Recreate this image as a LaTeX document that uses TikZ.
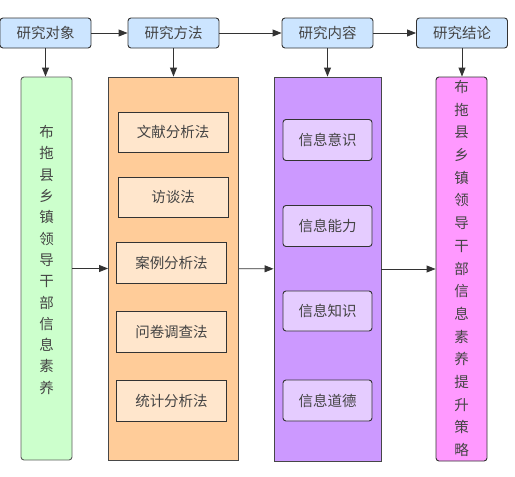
\documentclass[tikz,border=0pt]{standalone}
\usepackage{fontspec}
\setmainfont{Noto Sans CJK SC}
\usetikzlibrary{arrows.meta}
\definecolor{txt}{HTML}{444444}
\definecolor{edge}{HTML}{333333}
\definecolor{hdr}{HTML}{CCE5FF}
\definecolor{grn}{HTML}{CCFFCC}
\definecolor{org}{HTML}{FFCC99}
\definecolor{orgin}{HTML}{FFE6CC}
\definecolor{pur}{HTML}{CC99FF}
\definecolor{purin}{HTML}{E5CCFF}
\definecolor{pnk}{HTML}{FF99FF}
\tikzset{
  box/.style={draw=edge, line width=0.9pt, inner sep=0pt, text=txt,
    font=\fontsize{14.5pt}{21.3pt}\selectfont, align=center},
  hdrbox/.style={box, fill=hdr, rounded corners=3pt, minimum width=91pt, minimum height=30pt},
  orgbox/.style={box, fill=orgin, minimum width=110pt, minimum height=40pt},
  purbox/.style={box, fill=purin, rounded corners=3pt, minimum width=89pt, minimum height=41pt},
  arr/.style={draw=edge, line width=0.9pt, -{Triangle[length=9pt,width=7pt]}}
}
\begin{document}
\begin{tikzpicture}[x=1pt,y=-1pt]
\useasboundingbox (0,0) rectangle (515,477);
% headers
\node[hdrbox] (h1) at (45.5,33) {研究对象};
\node[hdrbox] (h2) at (173.5,33) {研究方法};
\node[hdrbox] (h3) at (327.5,33) {研究内容};
\node[hdrbox] (h4) at (462,33) {研究结论};
% columns
\node[box, fill=grn, draw=edge!80, rounded corners=3pt, minimum width=51pt, minimum height=383pt] (c1) at (46.5,268.5) {};
\node[text=txt, font=\fontsize{14.5pt}{21.3pt}\selectfont, align=center, inner sep=0pt] (t1) at (46.5,260)
  {布\\拖\\县\\乡\\镇\\领\\导\\干\\部\\信\\息\\素\\养};
\node[box, fill=org, draw=edge!90, minimum width=130pt, minimum height=383pt] (c2) at (173.5,268.5) {};
\node[box, fill=pur, draw=edge!90, minimum width=107pt, minimum height=384pt] (c3) at (327.5,269) {};
\node[box, fill=pnk, rounded corners=3pt, minimum width=51pt, minimum height=384pt] (c4) at (461.5,269) {};
\node[text=txt, font=\fontsize{14.5pt}{22.7pt}\selectfont, align=center, inner sep=0pt] (t4) at (461.5,268.5)
  {布\\拖\\县\\乡\\镇\\领\\导\\干\\部\\信\\息\\素\\养\\提\\升\\策\\略};
% method boxes
\node[orgbox] (m1) at (173,132) {文献分析法};
\node[orgbox] (m2) at (173,197) {访谈法};
\node[orgbox, minimum height=41pt] (m3) at (171.5,262.5) {案例分析法};
\node[orgbox, minimum height=41pt] (m4) at (171.5,332) {问卷调查法};
\node[orgbox, minimum height=41pt] (m5) at (171.5,400.5) {统计分析法};
% content boxes
\node[purbox] (p1) at (327.5,140) {信息意识};
\node[purbox] (p2) at (327.5,226) {信息能力};
\node[purbox, minimum height=40pt] (p3) at (327.5,311) {信息知识};
\node[purbox] (p4) at (327.5,400.5) {信息道德};
% arrows
\draw[arr] (h1) -- (h2);
\draw[arr] (h2) -- (h3);
\draw[arr] (h3) -- (h4);
\draw[arr] (h1) -- (h1 |- c1.north);
\draw[arr] (h2) -- (h2 |- c2.north);
\draw[arr] (h3) -- (h3 |- c3.north);
\draw[arr] (h4) -- (h4 |- c4.north);
\draw[arr] (c1) -- (c2);
\draw[arr] (c2) -- (c3);
\draw[arr] (c3) -- (c4);
\end{tikzpicture}
\end{document}
